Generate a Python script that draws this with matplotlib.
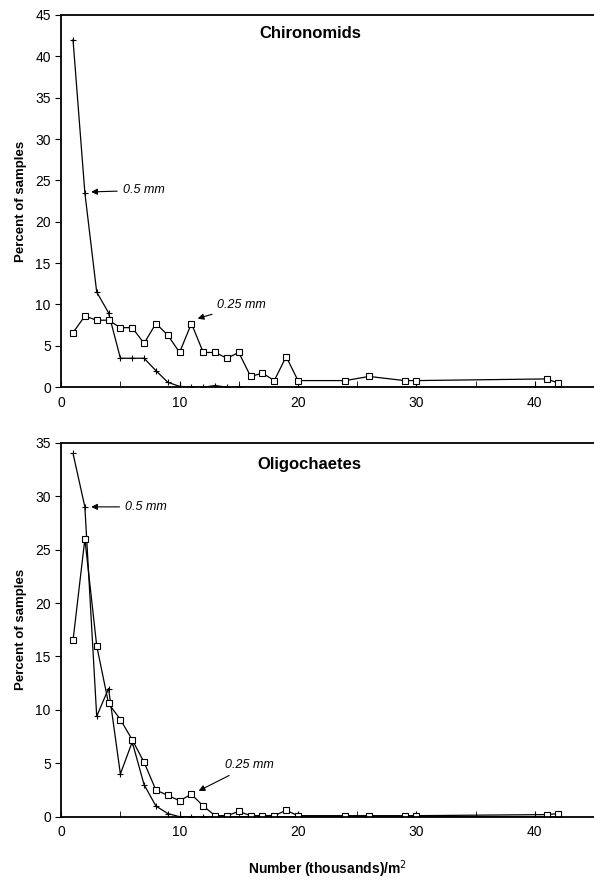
import matplotlib.pyplot as plt
from matplotlib.ticker import MultipleLocator

plt.rcParams['font.family'] = ['Liberation Sans', 'DejaVu Sans']

# Chironomids
chi_x_05 = [1, 2, 3, 4, 5, 6, 7, 8, 9, 10, 11, 12, 13, 14, 15, 20, 42]
chi_y_05 = [42, 23.5, 11.5, 9, 3.5, 3.5, 3.5, 2, 0.6, 0.1, 0, 0, 0.2, 0, 0, 0, 0]
chi_x_025 = [1, 2, 3, 4, 5, 6, 7, 8, 9, 10, 11, 12, 13, 14, 15, 16, 17, 18, 19, 20,
             24, 26, 29, 30, 41, 42]
chi_y_025 = [6.6, 8.6, 8.1, 8.1, 7.2, 7.2, 5.3, 7.7, 6.3, 4.2, 7.7, 4.2, 4.2, 3.5, 4.2,
             1.3, 1.7, 0.8, 3.7, 0.8, 0.8, 1.3, 0.8, 0.8, 1.0, 0.5]

# Oligochaetes
oli_x_05 = [1, 2, 3, 4, 5, 6, 7, 8, 9, 10, 11, 12, 13, 20, 42]
oli_y_05 = [34, 29, 9.4, 12, 4, 7, 3, 1, 0.3, 0, 0, 0, 0, 0, 0]
oli_x_025 = [1, 2, 3, 4, 5, 6, 7, 8, 9, 10, 11, 12, 13, 14, 15, 16, 17, 18, 19, 20,
             24, 26, 29, 30, 41, 42]
oli_y_025 = [16.5, 26, 16, 10.6, 9.1, 7.2, 5.1, 2.5, 2, 1.5, 2.1, 1, 0.1, 0.1, 0.5,
             0.1, 0.1, 0.1, 0.6, 0.1, 0.1, 0.1, 0.1, 0.1, 0.2, 0.3]

fig = plt.figure(figsize=(5.94, 8.82), dpi=100)
ax1 = fig.add_axes([0.103, 0.561, 0.897, 0.422])
ax2 = fig.add_axes([0.103, 0.074, 0.897, 0.424])


def style(ax, ymax):
    ax.set_xlim(0, 45)
    ax.set_ylim(0, ymax)
    ax.spines['right'].set_visible(False)
    for s in ['left', 'bottom', 'top']:
        ax.spines[s].set_linewidth(1.3)
    ax.xaxis.set_major_locator(MultipleLocator(10))
    ax.xaxis.set_minor_locator(MultipleLocator(5))
    ax.yaxis.set_major_locator(MultipleLocator(5))
    ax.tick_params(axis='x', which='both', direction='in', length=4, labelsize=10, pad=6)
    ax.tick_params(axis='y', direction='out', length=4, labelsize=10)
    ax.set_ylabel('Percent of samples', fontsize=9.5, fontweight='bold', labelpad=6)


ax1.plot(chi_x_05, chi_y_05, color='black', lw=0.9, marker='+', ms=5, mew=0.8)
ax1.plot(chi_x_025, chi_y_025, color='black', lw=0.9, marker='s', ms=5,
         mfc='white', mew=0.8)
style(ax1, 45)
ax1.text(21, 42.8, 'Chironomids', ha='center', va='center', fontsize=12, fontweight='bold')
ax1.annotate('0.5 mm', xy=(2.3, 23.6), xytext=(5.2, 23.8), fontsize=9, style='italic',
             va='center', arrowprops=dict(arrowstyle='-|>', color='black', lw=0.8))
ax1.annotate('0.25 mm', xy=(11.3, 8.2), xytext=(13.2, 9.9), fontsize=9, style='italic',
             va='center', arrowprops=dict(arrowstyle='-|>', color='black', lw=0.8))

ax2.plot(oli_x_05, oli_y_05, color='black', lw=0.9, marker='+', ms=5, mew=0.8)
ax2.plot(oli_x_025, oli_y_025, color='black', lw=0.9, marker='s', ms=5,
         mfc='white', mew=0.8)
style(ax2, 35)
ax2.text(21, 33, 'Oligochaetes', ha='center', va='center', fontsize=12, fontweight='bold')
ax2.annotate('0.5 mm', xy=(2.3, 29), xytext=(5.4, 29), fontsize=9, style='italic',
             va='center', arrowprops=dict(arrowstyle='-|>', color='black', lw=0.8))
ax2.annotate('0.25 mm', xy=(11.4, 2.3), xytext=(13.8, 4.8), fontsize=9, style='italic',
             va='center', arrowprops=dict(arrowstyle='-|>', color='black', lw=0.8))
ax2.set_xlabel('Number (thousands)/m$^2$', fontsize=10, fontweight='bold', labelpad=14)

fig.savefig('out.png', dpi=100)
